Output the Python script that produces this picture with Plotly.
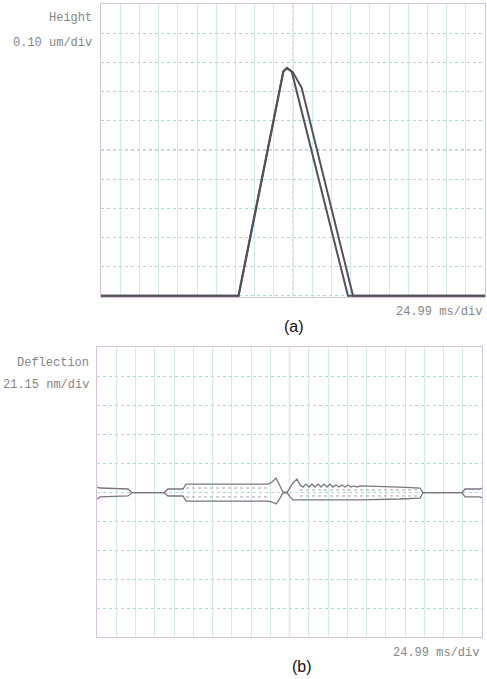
import plotly.graph_objects as go

# ---------------- data ----------------
# (a) Height vs time (ms, um) : trace and retrace
height_t_trace = [0, 89.4, 118.6, 121.0, 124.1, 160.7, 249.9]
height_trace = [0, 0, 0.769, 0.781, 0.769, 0, 0]
height_t_retrace = [0, 89.6, 118.8, 121.2, 125.0, 130.6, 164.0, 249.9]
height_retrace = [0, 0, 0.770, 0.780, 0.765, 0.713, 0, 0]

# (b) Deflection vs time (ms, nm): upper and lower outline of the band
defl_t = [0, 1.9, 20.1, 22.7, 43.5, 46.1, 55.8, 57.8, 111.0, 113.6, 116.2, 118.1,
          120.7, 123.3, 125.3, 127.2, 129.8, 131.8, 133.7, 135.7, 137.6, 139.6,
          141.5, 143.5, 145.4, 147.3, 149.3, 151.2, 153.2, 155.1, 157.1, 159.0,
          161.0, 162.9, 164.9, 166.8, 168.8, 170.7, 196.7, 209.7, 211.6, 236.9,
          238.9, 248.6, 249.9]
defl_upper = [3.6, 2.9, 2.2, -0.4, -0.4, 2.2, 2.2, 5.8, 5.8, 7.3, 10.2, 5.8,
              0.0, -0.4, 2.9, 6.6, 9.5, 5.1, 3.6, 5.8, 3.6, 5.8, 3.6, 5.8, 3.6,
              5.8, 3.6, 5.8, 3.6, 5.1, 3.6, 5.1, 3.6, 5.1, 3.6, 4.4, 3.6, 4.4,
              3.6, 2.9, -0.4, -0.4, 2.2, 2.2, 2.9]
defl_lower = [-5.1, -3.6, -2.9, -0.4, -0.4, -2.9, -2.9, -6.6, -6.6, -7.3, -8.7,
              -5.8, -0.7, -0.4, -3.6, -5.8, -5.8, -5.8, -5.8, -5.8, -5.8, -5.8,
              -5.8, -5.8, -5.8, -5.8, -5.8, -5.8, -5.8, -5.8, -5.8, -5.8, -5.8,
              -5.8, -5.8, -5.8, -5.8, -5.8, -5.1, -4.4, -0.4, -0.4, -3.6, -3.6,
              -4.4]
# inner noisy lines inside the bands
inner_t = [57.8, 111.0, None, 131.8, 209.7]
inner_upper = [2.9, 2.9, None, 1.5, 1.5]
inner_lower = [-3.6, -3.6, None, -2.9, -2.9]

x_div_ms = 24.99
height_div_um = 0.10
defl_div_nm = 21.15
n_xdiv = 10
n_ydiv = 10

# ---------------- figure ----------------
W, H = 487, 679
fig = go.Figure()

trace_col = "#55505c"
fig.add_trace(go.Scatter(x=height_t_trace, y=height_trace, mode="lines",
                         line=dict(color=trace_col, width=2), xaxis="x", yaxis="y"))
fig.add_trace(go.Scatter(x=height_t_retrace, y=height_retrace, mode="lines",
                         line=dict(color=trace_col, width=2), xaxis="x", yaxis="y"))

dcol = "#7a7480"
fig.add_trace(go.Scatter(x=defl_t, y=defl_upper, mode="lines",
                         line=dict(color=dcol, width=1.3), xaxis="x2", yaxis="y2"))
fig.add_trace(go.Scatter(x=defl_t, y=defl_lower, mode="lines",
                         line=dict(color=dcol, width=1.3), xaxis="x2", yaxis="y2"))
fig.add_trace(go.Scatter(x=inner_t, y=inner_upper, mode="lines", connectgaps=False,
                         line=dict(color="#a8a2ad", width=1, dash="dot"), xaxis="x2", yaxis="y2"))
fig.add_trace(go.Scatter(x=inner_t, y=inner_lower, mode="lines", connectgaps=False,
                         line=dict(color="#a8a2ad", width=1, dash="dot"), xaxis="x2", yaxis="y2"))

xmax = n_xdiv * x_div_ms
ymax_a = n_ydiv * height_div_um
ylim_b = n_ydiv / 2 * defl_div_nm

border = "#d6c3dc"
vgrid = "#cdeeea"
hgrid = "#a9dcd5"

def xax(domain):
    return dict(domain=domain, range=[0, xmax], dtick=x_div_ms / 2, tick0=0,
                showticklabels=False, ticks="", zeroline=False,
                showgrid=True, gridcolor=vgrid, gridwidth=1,
                showline=True, linecolor=border, linewidth=1, mirror=True)

def yax(domain, rng, dt):
    return dict(domain=domain, range=rng, dtick=dt, tick0=0,
                showticklabels=False, ticks="", zeroline=False,
                showgrid=True, gridcolor=hgrid, gridwidth=1, griddash="dot",
                showline=True, linecolor=border, linewidth=1, mirror=True)

fig.update_layout(
    width=W, height=H, margin=dict(l=0, r=0, t=0, b=0),
    paper_bgcolor="white", plot_bgcolor="white", showlegend=False,
    xaxis=dict(**xax([101 / W, 485 / W]), anchor="y"),
    yaxis=dict(**yax([1 - 297 / H, 1 - 4 / H], [-0.004, ymax_a], height_div_um), anchor="x"),
    xaxis2=dict(**xax([97 / W, 482 / W]), anchor="y2"),
    yaxis2=dict(**yax([1 - 637 / H, 1 - 347 / H], [-ylim_b, ylim_b], defl_div_nm), anchor="x2"),
)

# centre lines
fig.add_shape(type="line", xref="x", yref="y", x0=xmax / 2, x1=xmax / 2, y0=0, y1=ymax_a,
              line=dict(color="#b9aebf", width=1, dash="dot"), layer="below")
fig.add_shape(type="line", xref="x", yref="y", x0=0, x1=xmax, y0=ymax_a / 2, y1=ymax_a / 2,
              line=dict(color="#e3a3b6", width=1.2, dash="dot"), layer="below")
fig.add_shape(type="line", xref="x2", yref="y2", x0=xmax / 2, x1=xmax / 2, y0=-ylim_b, y1=ylim_b,
              line=dict(color="#c3afca", width=1.2), layer="below")

mono = dict(family="Liberation Mono", size=12, color="#858585")
def ann(text, xpx, ypx, xanchor="right", font=mono):
    fig.add_annotation(text=text, xref="paper", yref="paper", x=xpx / W, y=1 - ypx / H,
                       xanchor=xanchor, yanchor="middle", showarrow=False, font=font)

ann("Height", 94, 18)
ann("0.10 um/div", 94, 43)
ann("24.99 ms/div", 484, 312)
ann("Deflection", 91, 363)
ann("21.15 nm/div", 91, 385)
ann("24.99 ms/div", 481, 653)
cap = dict(family="Liberation Sans", size=16, color="#111111")
ann("(a)", 294, 326, xanchor="center", font=cap)
ann("(b)", 302, 666, xanchor="center", font=cap)

fig.write_html("out.html")
